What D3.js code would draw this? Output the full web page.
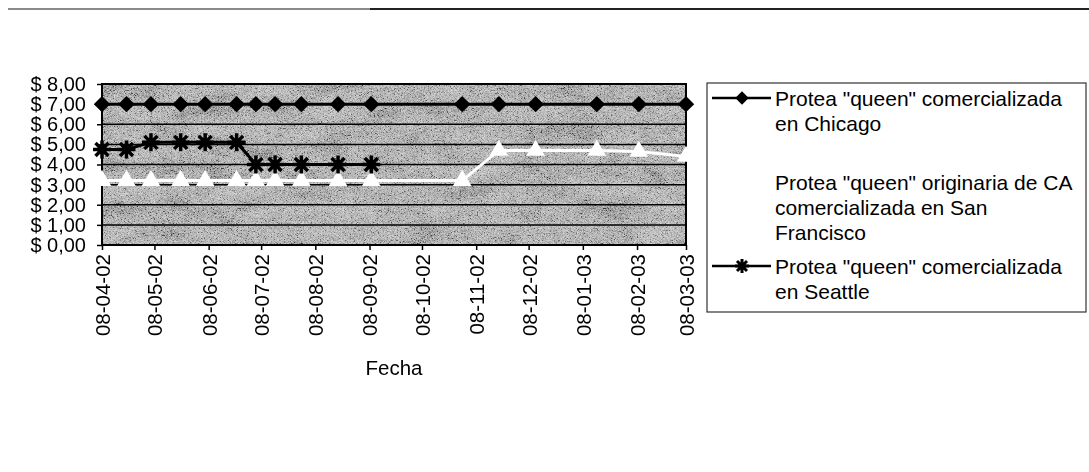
<!DOCTYPE html>
<html>
<head>
<meta charset="utf-8">
<script src="https://cdn.jsdelivr.net/npm/d3@7"></script>
<style>
  body { margin: 0; background: #fff; }
  text { font-family: "Liberation Sans", Arial, sans-serif; fill: #000; }
</style>
</head>
<body>
<script>
// fechas de cada precio (dd-mm-aa en el eje)
var fechas = ["2002-04-08", "2002-04-22", "2002-05-06", "2002-05-23", "2002-06-06",
  "2002-06-24", "2002-07-05", "2002-07-16", "2002-07-31", "2002-08-21", "2002-09-09",
  "2002-10-31", "2002-11-21", "2002-12-12", "2003-01-16", "2003-02-09", "2003-03-08"];
var chicago = [7, 7, 7, 7, 7, 7, 7, 7, 7, 7, 7, 7, 7, 7, 7, 7, 7];
var sanFrancisco = [3.2, 3.2, 3.2, 3.2, 3.2, 3.2, 3.2, 3.2, 3.2, 3.2, 3.2, 3.2, 4.7, 4.7, 4.7, 4.65, 4.4];
var seattle = [4.75, 4.75, 5.1, 5.1, 5.1, 5.1, 4.0, 4.0, 4.0, 4.0, 4.0];
var yTicks = [0, 1, 2, 3, 4, 5, 6, 7, 8];
var xTicks = ["2002-04-08", "2002-05-08", "2002-06-08", "2002-07-08", "2002-08-08", "2002-09-08",
  "2002-10-08", "2002-11-08", "2002-12-08", "2003-01-08", "2003-02-08", "2003-03-08"];
var legendLabels = [
  ['Protea "queen" comercializada', 'en Chicago'],
  ['Protea "queen" originaria de CA', 'comercializada en San', 'Francisco'],
  ['Protea "queen" comercializada', 'en Seattle']
];

var w = 1089, h = 472;
var pLeft = 102, pRight = 686, pTop = 84, pBottom = 245;
var parse = d3.timeParse("%Y-%m-%d");

var svg = d3.select("body").append("svg")
  .attr("width", w)
  .attr("height", h);

// scanned-paper texture for the plot area
var defs = svg.append("defs");
var grain = defs.append("filter").attr("id", "grain")
  .attr("x", 0).attr("y", 0).attr("width", 1).attr("height", 1);
grain.append("feTurbulence").attr("type", "fractalNoise")
  .attr("baseFrequency", "0.7 1.4").attr("numOctaves", 2).attr("seed", 7);
grain.append("feColorMatrix").attr("type", "matrix")
  .attr("values", "0.33 0.33 0.33 0 0  0.33 0.33 0.33 0 0  0.33 0.33 0.33 0 0  0 0 0 0 1");
var ct = grain.append("feComponentTransfer");
["feFuncR", "feFuncG", "feFuncB"].forEach(function(f) {
  ct.append(f).attr("type", "linear").attr("slope", 4).attr("intercept", -1.45);
});
var blot = defs.append("filter").attr("id", "blot")
  .attr("x", 0).attr("y", 0).attr("width", 1).attr("height", 1);
blot.append("feTurbulence").attr("type", "fractalNoise")
  .attr("baseFrequency", "0.025 0.05").attr("numOctaves", 3).attr("seed", 11);
blot.append("feColorMatrix").attr("type", "matrix")
  .attr("values", "0.33 0.33 0.33 0 0  0.33 0.33 0.33 0 0  0.33 0.33 0.33 0 0  0 0 0 0 1");
var ct2 = blot.append("feComponentTransfer");
["feFuncR", "feFuncG", "feFuncB"].forEach(function(f) {
  ct2.append(f).attr("type", "linear").attr("slope", 3.5).attr("intercept", -1.35);
});

// top rule
svg.append("line").attr("x1", 8).attr("x2", 370).attr("y1", 9).attr("y2", 9)
  .attr("stroke", "#8a8a8a").attr("stroke-width", 2);
svg.append("line").attr("x1", 370).attr("x2", w).attr("y1", 9).attr("y2", 9)
  .attr("stroke", "#222").attr("stroke-width", 2);

var x = d3.scaleTime()
  .domain([parse(xTicks[0]), parse(xTicks[xTicks.length - 1])])
  .range([pLeft, pRight]);
var y = d3.scaleLinear().domain([0, 8]).range([pBottom, pTop]);

// plot background
svg.append("rect").attr("x", pLeft).attr("y", pTop)
  .attr("width", pRight - pLeft).attr("height", pBottom - pTop)
  .attr("fill", "#7e7e7e");
svg.append("rect").attr("x", pLeft).attr("y", pTop)
  .attr("width", pRight - pLeft).attr("height", pBottom - pTop)
  .attr("filter", "url(#grain)").attr("opacity", 0.55);
svg.append("rect").attr("x", pLeft).attr("y", pTop)
  .attr("width", pRight - pLeft).attr("height", pBottom - pTop)
  .attr("filter", "url(#blot)").attr("opacity", 0.3)
  .style("mix-blend-mode", "screen");

// gridlines
svg.append("g").selectAll("line")
  .data(yTicks.slice(1, -1))
  .enter().append("line")
  .attr("x1", pLeft).attr("x2", pRight)
  .attr("y1", function(d) { return y(d); })
  .attr("y2", function(d) { return y(d); })
  .attr("stroke", "#000").attr("stroke-width", 1.5);

svg.append("rect").attr("x", pLeft).attr("y", pTop)
  .attr("width", pRight - pLeft).attr("height", pBottom - pTop)
  .attr("fill", "none").attr("stroke", "#000").attr("stroke-width", 2);

// axes
var yAxis = svg.append("g")
  .attr("transform", "translate(" + pLeft + ",0)")
  .call(d3.axisLeft(y).tickValues(yTicks).tickSize(5).tickPadding(11)
    .tickFormat(function(d) { return "$ " + d3.format(".2f")(d).replace(".", ","); }));
yAxis.select(".domain").remove();
yAxis.selectAll("line").attr("stroke", "#000").attr("stroke-width", 1.5);
yAxis.selectAll("text").attr("font-size", "20px").attr("font-family", "Liberation Sans, Arial");

var xAxis = svg.append("g")
  .attr("transform", "translate(0," + pBottom + ")")
  .call(d3.axisBottom(x).tickValues(xTicks.map(parse)).tickSize(5)
    .tickFormat(d3.timeFormat("%d-%m-%y")));
xAxis.select(".domain").remove();
xAxis.selectAll("line").attr("stroke", "#000").attr("stroke-width", 1.5);
xAxis.selectAll("text")
  .attr("font-size", "20.5px").attr("font-family", "Liberation Sans, Arial")
  .attr("text-anchor", "end")
  .attr("transform", "rotate(-90)")
  .attr("x", -9).attr("y", 0).attr("dy", "0.36em");

svg.append("text").text("Fecha")
  .attr("x", (pLeft + pRight) / 2).attr("y", 375)
  .attr("text-anchor", "middle").attr("font-size", "20.5px");

// series
var line = d3.line()
  .x(function(d) { return x(d.date); })
  .y(function(d) { return y(d.value); });

function pairs(vals) {
  return vals.map(function(v, i) { return { date: parse(fechas[i]), value: v }; });
}

var diamond = d3.symbol().type(d3.symbolSquare).size(135);
var triangle = d3.symbol().type(d3.symbolTriangle).size(150);
var star = "M-9,0H9M0,-9V9M-6.5,-6.5L6.5,6.5M-6.5,6.5L6.5,-6.5";

var chi = pairs(chicago), sf = pairs(sanFrancisco), sea = pairs(seattle);

svg.append("path").datum(chi).attr("d", line)
  .attr("fill", "none").attr("stroke", "#000").attr("stroke-width", 3);
svg.append("g").selectAll("path").data(chi).enter().append("path")
  .attr("d", diamond)
  .attr("transform", function(d) { return "translate(" + x(d.date) + "," + y(d.value) + ") rotate(45)"; })
  .attr("fill", "#000");

svg.append("path").datum(sf).attr("d", line)
  .attr("fill", "none").attr("stroke", "#fff").attr("stroke-width", 3);
svg.append("g").selectAll("path").data(sf).enter().append("path")
  .attr("d", triangle)
  .attr("transform", function(d) { return "translate(" + x(d.date) + "," + y(d.value) + ")"; })
  .attr("fill", "#fff");

svg.append("path").datum(sea).attr("d", line)
  .attr("fill", "none").attr("stroke", "#000").attr("stroke-width", 3);
svg.append("g").selectAll("path").data(sea).enter().append("path")
  .attr("d", star)
  .attr("transform", function(d) { return "translate(" + x(d.date) + "," + y(d.value) + ")"; })
  .attr("fill", "none").attr("stroke", "#000").attr("stroke-width", 3.5);

// legend
var lg = svg.append("g");
lg.append("rect").attr("x", 707).attr("y", 83).attr("width", 379).attr("height", 229)
  .attr("fill", "#fff").attr("stroke", "#333").attr("stroke-width", 1.2);

var entryY = [98, 182, 266];
legendLabels.forEach(function(lines, i) {
  var t = lg.append("text").attr("x", 775).attr("y", entryY[i])
    .attr("font-size", "21px");
  lines.forEach(function(s, j) {
    t.append("tspan").attr("x", 775).attr("dy", j === 0 ? "0.36em" : "25px").text(s);
  });
});

var legDiamond = d3.symbol().type(d3.symbolSquare).size(90);
var legStar = "M-7,0H7M0,-7V7M-5,-5L5,5M-5,5L5,-5";
lg.append("line").attr("x1", 712).attr("x2", 771).attr("y1", entryY[0]).attr("y2", entryY[0])
  .attr("stroke", "#000").attr("stroke-width", 2.5);
lg.append("path").attr("d", legDiamond)
  .attr("transform", "translate(742," + entryY[0] + ") rotate(45)").attr("fill", "#000");
lg.append("line").attr("x1", 712).attr("x2", 771).attr("y1", entryY[1]).attr("y2", entryY[1])
  .attr("stroke", "#fff").attr("stroke-width", 2.5);
lg.append("line").attr("x1", 712).attr("x2", 771).attr("y1", entryY[2]).attr("y2", entryY[2])
  .attr("stroke", "#000").attr("stroke-width", 2.5);
lg.append("path").attr("d", legStar)
  .attr("transform", "translate(742," + entryY[2] + ")")
  .attr("fill", "none").attr("stroke", "#000").attr("stroke-width", 3);
</script>
</body>
</html>
